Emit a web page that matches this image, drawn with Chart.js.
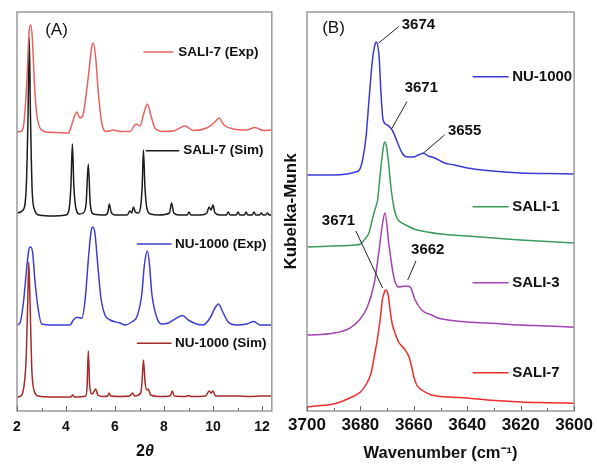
<!DOCTYPE html>
<html><head><meta charset="utf-8">
<script src="https://cdn.jsdelivr.net/npm/chart.js@4.4.1/dist/chart.umd.min.js"></script>
<style>
html,body{margin:0;padding:0;background:#fff;width:597px;height:464px;overflow:hidden}
#ca{position:absolute;left:0;top:0}
#cb{position:absolute;left:280px;top:0}
</style></head><body>
<canvas id="ca" width="282" height="464"></canvas>
<canvas id="cb" width="317" height="464"></canvas>
<script>
// ---------- Panel A: XRD patterns [2theta, intensity above own baseline] ----------
const xrdNames = ['SALI-7 (Exp)', 'SALI-7 (Sim)', 'NU-1000 (Exp)', 'NU-1000 (Sim)'];
const xrdOffsets = [278, 195, 86, 14];
const xrdSali7Exp = [[2.0,1],[2.15,1.5],[2.26,6],[2.4,50],[2.5,103],[2.56,108],[2.63,93],[2.71,50],[2.8,20],[2.94,5],[3.2,1],[3.6,0.5],[4.1,0],[4.23,8],[4.44,21],[4.57,15],[4.71,20],[4.91,56],[5.05,86],[5.11,90],[5.21,76],[5.32,40],[5.46,10],[5.66,1.5],[5.93,3],[6.2,1.5],[6.61,1.5],[6.86,9],[7.02,7],[7.18,20],[7.32,29],[7.46,18],[7.63,5],[7.97,1.5],[8.38,2],[8.86,7],[9.2,2.5],[9.74,5],[10.08,11],[10.24,15],[10.45,8],[10.83,4],[11.37,3],[11.71,5.5],[12.05,2.5],[12.4,3]];
const xrdSali7Sim = [[2.0,3],[2.25,6],[2.38,30],[2.45,100],[2.5,178],[2.55,100],[2.62,25],[2.72,6],[2.9,1],[3.5,0],[4.0,1],[4.12,6],[4.2,30],[4.26,72],[4.32,30],[4.42,6],[4.55,2],[4.7,3],[4.82,12],[4.91,52],[4.99,12],[5.12,2],[5.6,1],[5.71,4],[5.77,12],[5.84,4],[6.0,1],[6.5,1],[6.61,5],[6.68,3],[6.75,9],[6.83,4],[6.95,3],[7.05,10],[7.11,30],[7.16,66],[7.22,30],[7.3,8],[7.45,2],[7.8,1],[8.22,3],[8.31,13],[8.4,3],[8.6,1],[8.95,1],[9.02,4],[9.1,1],[9.5,1],[9.75,3],[9.84,9],[9.92,6],[10.0,11],[10.08,3],[10.3,1],[10.55,1],[10.62,4],[10.7,1],[10.95,1],[11.02,4],[11.1,1],[11.28,1],[11.35,4],[11.42,1],[11.6,1],[11.67,4],[11.75,1],[11.9,1],[11.97,3],[12.05,1],[12.15,1],[12.22,3],[12.3,1],[12.4,1]];
const xrdNuExp = [[2.0,0],[2.12,2],[2.26,22],[2.4,58],[2.5,77],[2.56,78],[2.64,72],[2.73,45],[2.87,15],[3.01,1],[3.5,0],[4.16,0],[4.3,5],[4.44,7.7],[4.64,6.7],[4.78,25],[4.91,65],[5.02,93],[5.09,98],[5.18,92],[5.28,65],[5.42,28],[5.59,10],[5.8,5],[6.2,2],[6.41,0],[6.68,3],[6.89,8],[7.09,30],[7.2,60],[7.32,74],[7.41,60],[7.5,32],[7.7,8],[7.9,1],[8.18,2],[8.52,7],[8.76,9.5],[8.99,5],[9.33,1],[9.6,0],[9.88,7],[10.08,17],[10.22,21],[10.4,13],[10.62,3],[10.97,0],[11.37,1],[11.67,3.5],[11.92,0],[12.4,0]];
const xrdNuSim = [[2.0,0],[2.12,0.5],[2.26,7],[2.37,37],[2.44,97],[2.48,135],[2.53,97],[2.6,30],[2.69,7],[2.87,1],[3.5,0],[4.2,0],[4.27,2],[4.35,0],[4.8,1],[4.86,10],[4.91,46],[4.97,10],[5.08,3],[5.21,8],[5.3,2],[5.5,0.5],[5.7,1],[5.76,4],[5.83,1],[6.2,0.5],[6.6,1],[6.72,4],[6.8,1],[7.05,4],[7.1,14],[7.16,37],[7.23,14],[7.3,7],[7.36,8],[7.45,2],[7.8,0.5],[8.25,1],[8.34,6],[8.42,1],[8.9,0.5],[9.0,1.5],[9.1,0.5],[9.7,1],[9.84,6],[9.92,4],[10.0,6],[10.1,1],[10.6,1],[11.0,1],[11.5,0.5],[12.0,1],[12.4,1]];
const xrdColors = ['#e8615f', '#1c1c1c', '#3d3dd0', '#a52a2a'];
const xrdTicks = [2, 4, 6, 8, 10, 12];

// ---------- Panel B: DRIFTS spectra [wavenumber, Kubelka-Munk above own baseline] ----------
const irNames = ['NU-1000', 'SALI-1', 'SALI-3', 'SALI-7'];
const irOffsets = [236, 164, 76, 4];
const irNu = [[3700,0],[3690,0],[3685,1],[3682,3],[3680.4,5],[3679.2,15],[3677.9,38],[3676.7,78],[3675.5,115],[3674.5,131],[3674.1,133],[3673,118],[3672.3,82],[3671.5,55],[3669.9,50],[3668.1,45],[3666.2,33],[3664.4,22],[3662.5,18],[3660.1,18],[3658.3,20],[3656.4,21.7],[3654.6,19],[3652.1,17],[3648.5,12],[3644.8,10],[3640,7],[3632.5,4.5],[3620,2],[3610,1.5],[3600,1]];
const irSali1 = [[3700,0],[3690,1],[3682,2],[3680,3],[3678,9],[3676.8,14],[3675.5,28],[3674.5,38],[3673.5,48],[3673,62],[3672,88],[3671.2,103],[3670.8,105],[3670.2,100],[3669.5,85],[3668.5,58],[3667.5,40],[3666.5,30],[3665,25],[3663,22],[3660,18],[3655,15],[3650,13],[3640,11],[3630,9],[3620,7],[3610,5.5],[3600,4]];
const irSali3 = [[3700,0],[3690.3,1.7],[3684.1,6.7],[3680.4,15],[3677.4,28],[3674.8,52],[3673,85],[3671.8,110],[3670.8,122],[3669.4,92],[3667.5,58],[3665.7,48],[3663.2,49],[3661.4,48],[3659.5,35],[3657.1,25],[3653.4,20],[3650.9,17],[3647.2,15],[3640,13],[3632.5,12],[3620,10],[3610,9],[3600,7.7]];
const irSali7 = [[3700,0],[3695,1.5],[3690,3],[3684,9],[3680,15],[3678,22],[3676,34],[3674.5,55],[3673.7,67],[3672.5,90],[3671.8,107],[3671,115],[3670.6,117],[3669.6,112],[3668.8,95],[3668,82],[3666.9,73],[3665.7,65],[3663.2,57],[3661.8,50],[3660.8,40],[3660,30],[3658.9,22],[3657,17],[3653.4,12],[3647,10],[3640,9],[3632.5,7],[3620,5],[3610,4.3],[3600,3.7]];
const irColors = ['#3a3ad8', '#3c9a5c', '#a044b0', '#ee2c2c'];
const irTicks = [3700, 3680, 3660, 3640, 3620, 3600];
const irPeakLabels = ['3674', '3671', '3655', '3671', '3662'];

// ---------- helpers ----------
function mkSet(pairs, off, color, label) {
  return {
    label, data: pairs.map(p => ({x: p[0], y: p[1] + off})),
    borderColor: color, borderWidth: 1.5, pointRadius: 0,
    cubicInterpolationMode: 'monotone', fill: false
  };
}

const framePlugin = {
  id: 'frame',
  afterDatasetsDraw(chart, args, o) {
    const {ctx, chartArea: a, scales} = chart;
    const x = scales.x;
    ctx.save();
    ctx.strokeStyle = o.color; ctx.lineWidth = o.width;
    ctx.strokeRect(a.left, a.top, a.right - a.left, a.bottom - a.top);
    ctx.lineWidth = 1; ctx.strokeStyle = '#666';
    const lo = Math.min(x.min, x.max), hi = Math.max(x.min, x.max);
    for (let v = Math.ceil(lo / o.minor) * o.minor; v <= hi + 1e-9; v += o.minor) {
      const px = Math.round(x.getPixelForValue(v)) + 0.5;
      const major = Math.abs(v / o.major - Math.round(v / o.major)) < 1e-6;
      const len = major ? 5 : 3;
      ctx.beginPath(); ctx.moveTo(px, a.bottom); ctx.lineTo(px, a.bottom - len); ctx.stroke();
    }
    ctx.restore();
  }
};

const notePlugin = {
  id: 'notes',
  afterDatasetsDraw(chart, args, o) {
    const {ctx, scales: {x, y}} = chart;
    ctx.save();
    (o.lines || []).forEach(l => {
      ctx.strokeStyle = l.color; ctx.lineWidth = l.width || 1;
      ctx.beginPath();
      ctx.moveTo(x.getPixelForValue(l.x0), y.getPixelForValue(l.y0));
      ctx.lineTo(x.getPixelForValue(l.x1), y.getPixelForValue(l.y1));
      ctx.stroke();
    });
    (o.texts || []).forEach(t => {
      ctx.fillStyle = t.color || '#111';
      ctx.font = t.font;
      ctx.textAlign = t.align || 'left';
      ctx.textBaseline = 'middle';
      const px = t.px !== undefined ? t.px : x.getPixelForValue(t.x);
      const py = t.py !== undefined ? t.py : y.getPixelForValue(t.y);
      ctx.fillText(t.text, px, py);
    });
    (o.mixed || []).forEach(m => {
      let w = 0;
      m.parts.forEach(p => { ctx.font = p.font; w += ctx.measureText(p.text).width; });
      let cx = m.px - w / 2;
      ctx.textBaseline = 'middle'; ctx.textAlign = 'left'; ctx.fillStyle = '#111';
      m.parts.forEach(p => { ctx.font = p.font; ctx.fillText(p.text, cx, m.py); cx += ctx.measureText(p.text).width; });
    });
    ctx.restore();
  }
};

const F = 'Liberation Sans, Arial, sans-serif';

// ---------- Chart A ----------
const xrdSeries = [xrdSali7Exp, xrdSali7Sim, xrdNuExp, xrdNuSim];
const legA = [
  {x0: 7.16, x1: 8.38, y: 359, tx: 8.58},
  {x0: 7.25, x1: 8.62, y: 260.3, tx: 8.79},
  {x0: 6.89, x1: 8.31, y: 167, tx: 8.45},
  {x0: 6.89, x1: 8.31, y: 67.7, tx: 8.45}
];
new Chart(document.getElementById('ca'), {
  type: 'line',
  data: { datasets: xrdSeries.map((s, i) => mkSet(s, xrdOffsets[i], xrdColors[i], xrdNames[i])) },
  options: {
    responsive: false, animation: false, devicePixelRatio: 1,
    layout: { padding: { left: 17, right: 10.2, top: 12, bottom: 0 } },
    plugins: {
      legend: { display: false }, tooltip: { enabled: false },
      frame: { color: '#9a9a9a', width: 1.5, minor: 1, major: 2 },
      notes: {
        lines: legA.map((l, i) => ({x0: l.x0, x1: l.x1, y0: l.y, y1: l.y, color: xrdColors[i], width: 1.5})),
        texts: legA.map((l, i) => ({text: xrdNames[i], x: l.tx, y: l.y, font: 'bold 13.5px ' + F}))
          .concat([{text: '(A)', px: 56.5, py: 30.5, align: 'center', font: '17px ' + F}]),
        mixed: [{px: 145, py: 452, parts: [{text: '2', font: 'bold 16px ' + F}, {text: 'θ', font: 'bold italic 16px ' + F}]}]
      }
    },
    scales: {
      x: {
        type: 'linear', min: 2, max: 12.4,
        afterBuildTicks: s => { s.ticks = xrdTicks.map(v => ({value: v})); },
        afterFit: s => { s.height = 53; },
        grid: { display: false, drawTicks: false }, border: { display: false },
        ticks: { color: '#111', font: { family: F, size: 14, weight: 'bold' }, padding: 8, maxRotation: 0, callback: v => String(v) }
      },
      y: { display: false, min: 0, max: 399 }
    }
  },
  plugins: [framePlugin, notePlugin]
});

// ---------- Chart B ----------
const irSeries = [irNu, irSali1, irSali3, irSali7];
const legBy = [334.3, 204.3, 128.3, 38.3];
const annB = [
  {tx: 3658.3, ty: 385.7, x0: 3673.3, y0: 367.7, x1: 3665.7, y1: 384.3},
  {tx: 3657.2, ty: 322.7, x0: 3668.2, y0: 282.7, x1: 3662.6, y1: 309.3},
  {tx: 3641.0, ty: 280.3, x0: 3656.5, y0: 257.7, x1: 3648.5, y1: 276.0},
  {tx: 3688.2, ty: 190.0, x0: 3681.7, y0: 180.0, x1: 3671.7, y1: 123.0},
  {tx: 3654.8, ty: 161.0, x0: 3659.2, y0: 150.0, x1: 3662.3, y1: 131.0}
];
new Chart(document.getElementById('cb'), {
  type: 'line',
  data: { datasets: irSeries.map((s, i) => mkSet(s, irOffsets[i], irColors[i], irNames[i])) },
  options: {
    responsive: false, animation: false, devicePixelRatio: 1,
    layout: { padding: { left: 0, right: 19, top: 12, bottom: 0 } },
    plugins: {
      legend: { display: false }, tooltip: { enabled: false },
      frame: { color: '#9a9a9a', width: 1.5, minor: 10, major: 20 },
      notes: {
        lines: legBy.map((y, i) => ({x0: 3638, x1: 3624.5, y0: y, y1: y, color: irColors[i], width: 1.5}))
          .concat(annB.map(a => ({x0: a.x0, y0: a.y0, x1: a.x1, y1: a.y1, color: '#222', width: 1}))),
        texts: legBy.map((y, i) => ({text: irNames[i], x: 3623.2, y, font: 'bold 15px ' + F}))
          .concat(annB.map((a, i) => ({text: irPeakLabels[i], x: a.tx, y: a.ty, align: 'center', font: 'bold 15px ' + F})))
          .concat([{text: '(B)', px: 333.5 - 280, py: 28.5, align: 'center', font: '17px ' + F}])
      }
    },
    scales: {
      x: {
        type: 'linear', min: 3600, max: 3700, reverse: true,
        afterBuildTicks: s => { s.ticks = irTicks.map(v => ({value: v})); },
        afterFit: s => { s.height = 53; },
        grid: { display: false, drawTicks: false }, border: { display: false },
        ticks: { color: '#111', font: { family: F, size: 17, weight: 'bold' }, padding: 4, maxRotation: 0, callback: v => String(v) },
        title: { display: true, text: 'Wavenumber (cm⁻¹)', color: '#111', font: { family: F, size: 16.5, weight: 'bold' }, padding: { top: 0, bottom: 1 } }
      },
      y: {
        min: 0, max: 399,
        afterFit: s => { s.width = 27; },
        grid: { display: false, drawTicks: false }, border: { display: false },
        ticks: { display: false },
        title: { display: true, text: 'Kubelka-Munk', color: '#111', font: { family: F, size: 17, weight: 'bold' }, padding: { top: 1, bottom: 0 } }
      }
    }
  },
  plugins: [framePlugin, notePlugin]
});
</script>
</body></html>
